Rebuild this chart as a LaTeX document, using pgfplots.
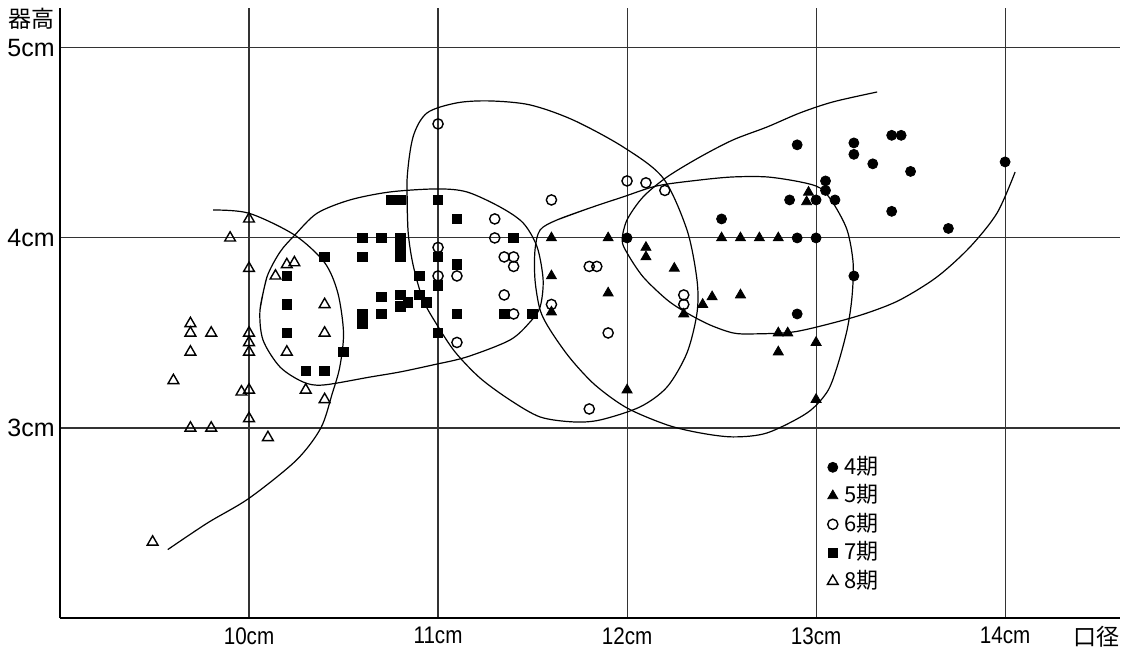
\documentclass[border=0pt]{standalone}
\usepackage{fontspec}
\setmainfont{Liberation Sans}
\newfontfamily\jp{Noto Sans CJK JP}
\newfontfamily\cond[FakeStretch=0.86]{Liberation Sans}
\usepackage{pgfplots}
\usepackage{pgfplotstable}
\pgfplotsset{compat=1.18}

\pgfplotstableread{
x y
12.0 4.0
12.5 4.1
12.86 4.2
12.9 4.49
12.9 4.0
13.0 4.0
13.0 4.2
13.05 4.3
13.05 4.25
13.1 4.2
13.2 4.5
13.2 4.44
13.3 4.39
13.4 4.54
13.45 4.54
13.5 4.35
13.4 4.14
13.7 4.05
14.0 4.4
13.2 3.8
12.9 3.6
}\kiA

\pgfplotstableread{
x y
11.6 4.0
11.6 3.8
11.6 3.61
11.9 4.0
11.9 3.71
12.0 3.2
12.1 3.95
12.1 3.9
12.25 3.84
12.3 3.6
12.4 3.65
12.45 3.69
12.5 4.0
12.6 4.0
12.7 4.0
12.8 4.0
12.6 3.7
12.8 3.5
12.85 3.5
12.8 3.4
13.0 3.45
13.0 3.15
12.96 4.24
12.95 4.19
}\kiB

\pgfplotstableread{
x y
11.0 4.6
11.0 3.95
11.0 3.8
11.1 3.8
11.1 3.45
11.3 4.1
11.3 4.0
11.35 3.9
11.4 3.9
11.4 3.85
11.35 3.7
11.4 3.6
11.6 4.2
11.6 3.65
11.8 3.85
11.84 3.85
11.9 3.5
11.8 3.1
12.0 4.3
12.1 4.29
12.2 4.25
12.3 3.7
12.3 3.65
}\kiC

\pgfplotstableread{
x y
10.2 3.8
10.2 3.65
10.2 3.5
10.3 3.3
10.4 3.3
10.4 3.9
10.5 3.4
10.6 4.0
10.6 3.9
10.6 3.6
10.6 3.55
10.7 4.0
10.7 3.69
10.7 3.6
10.75 4.2
10.8 4.2
10.8 4.0
10.8 3.95
10.8 3.9
10.8 3.7
10.84 3.66
10.8 3.64
10.9 3.8
10.9 3.7
10.94 3.66
11.0 4.2
11.0 3.9
11.0 3.75
11.0 3.5
11.1 4.1
11.1 3.86
11.1 3.6
11.35 3.6
11.4 4.0
11.5 3.6
}\kiD

\pgfplotstableread{
x y
10.0 4.1
9.9 4.0
10.0 3.84
9.69 3.55
9.69 3.5
9.8 3.5
9.69 3.4
9.6 3.25
10.0 3.5
10.0 3.45
10.0 3.4
9.96 3.19
10.0 3.2
10.0 3.05
9.69 3.0
9.8 3.0
10.1 2.95
9.49 2.4
10.14 3.8
10.2 3.86
10.24 3.87
10.4 3.65
10.4 3.5
10.2 3.4
10.3 3.2
10.4 3.15
}\kiE

\begin{document}
\begin{tikzpicture}
\begin{axis}[
  scale only axis, width=530pt, height=305pt,
  xmin=9, xmax=14.608, ymin=2, ymax=5.21,
  axis lines*=left,
  axis line style={-, line width=1pt, black},
  xtick={10,11,12,13,14},
  xticklabels={10cm,11cm,12cm,13cm,14cm},
  ytick={3,4,5},
  yticklabels={3cm,4cm,5cm},
  major tick length=0pt,
  grid=major,
  grid style={line width=0.55pt, black!80},
  xticklabel style={font=\cond\fontsize{12}{12}\selectfont, inner sep=0pt, yshift=-4.5pt},
  yticklabel style={font=\fontsize{12.5}{12}\selectfont, inner sep=0pt, xshift=-2.5pt},
  ylabel={\jp 器高},
  ylabel style={rotate=-90, at={(axis description cs:0,1)}, anchor=north east, inner sep=0pt, xshift=-2.5pt, font=\fontsize{11.5}{12}\selectfont},
  xlabel={\jp 口径},
  xlabel style={at={(axis description cs:1,0)}, anchor=north east, inner sep=0pt, yshift=-4pt, font=\fontsize{11.5}{12}\selectfont},
  clip=false,
  legend style={at={(axis cs:13.058,2.853)}, anchor=north west, draw=none, fill=none,
    inner sep=0pt,
    nodes={inner sep=0pt, text height=9pt, text depth=2pt},
    font=\jp\fontsize{11}{12}\selectfont, row sep=3.25pt,
    /tikz/every odd column/.append style={column sep=3pt}},
  legend cell align=left,
  legend image code/.code={\draw[#1] plot coordinates {(0cm,0cm)};},
]
% 8期 boundary arc
\addplot[smooth, line width=0.6pt, black, forget plot] coordinates {
(9.81,4.147) (10.0,4.13) (10.24,4.016) (10.40,3.87) (10.47,3.71) (10.50,3.50)
(10.48,3.32) (10.44,3.18) (10.38,3.0) (10.25,2.83) (10.0,2.63) (9.78,2.5) (9.57,2.36)};
% 7期 loop
\addplot[smooth, line width=0.6pt, black, forget plot] coordinates {
(10.058,3.621) (10.095,3.795) (10.164,3.926) (10.243,4.016) (10.36,4.13) (10.534,4.2)
(10.746,4.242) (10.995,4.258) (11.153,4.242) (11.328,4.163) (11.45,4.079) (11.524,3.953)
(11.556,3.779) (11.54,3.637) (11.487,3.558) (11.381,3.463) (11.153,3.374) (10.974,3.332)
(10.8,3.295) (10.64,3.268) (10.392,3.226) (10.286,3.242) (10.164,3.321) (10.074,3.463)
(10.058,3.621) (10.095,3.795)};
% 6期 loop
\addplot[smooth, line width=0.6pt, black, forget plot] coordinates {
(10.841,4.042) (10.836,4.305) (10.868,4.532) (10.942,4.658) (11.101,4.711) (11.275,4.721)
(11.487,4.700) (11.714,4.621) (11.979,4.479) (12.190,4.316) (12.317,4.042) (12.370,3.779)
(12.370,3.605) (12.317,3.395) (12.212,3.216) (12.069,3.111) (11.857,3.042) (11.714,3.032)
(11.540,3.058) (11.381,3.147) (11.222,3.263) (11.090,3.4) (10.995,3.542) (10.921,3.674)
(10.868,3.858) (10.841,4.042) (10.836,4.305)};
% 5期 loop
\addplot[smooth, line width=0.6pt, black, forget plot] coordinates {
(11.630,4.095) (11.804,4.158) (11.979,4.216) (12.159,4.274) (12.386,4.305) (12.561,4.321)
(12.741,4.321) (12.915,4.295) (13.021,4.263) (13.090,4.184) (13.164,4.042) (13.196,3.868)
(13.190,3.689) (13.164,3.516) (13.111,3.321) (13.058,3.189) (12.952,3.079) (12.741,2.974)
(12.561,2.953) (12.386,2.974) (12.212,3.016) (12.0,3.105) (11.831,3.226) (11.698,3.368)
(11.593,3.516) (11.540,3.621) (11.513,3.779) (11.513,3.937) (11.540,4.042) (11.630,4.095)
(11.804,4.158)};
% 4期 arc
\addplot[smooth, line width=0.6pt, black, forget plot] coordinates {
(13.323,4.768) (13.090,4.716) (12.915,4.658) (12.741,4.584) (12.561,4.516) (12.386,4.426)
(12.212,4.321) (12.085,4.216) (12.0,4.095) (11.974,3.989) (12.0,3.921) (12.085,3.795)
(12.212,3.674) (12.317,3.605) (12.439,3.542) (12.561,3.5) (12.667,3.495) (12.878,3.505)
(13.090,3.553) (13.270,3.605) (13.444,3.674) (13.640,3.795) (13.815,3.953) (13.958,4.132)
(14.053,4.347)};

\addplot[only marks, mark=*, mark size=2.5pt, black, mark options={fill=black}] table {\kiA};
\addlegendentry{4期}
\addplot[only marks, mark=triangle*, mark size=2.9pt, black, mark options={fill=black}] table {\kiB};
\addlegendentry{5期}
\addplot[only marks, mark=o, mark size=2.55pt, black, mark options={fill=white, line width=0.7pt}] table {\kiC};
\addlegendentry{6期}
\addplot[only marks, mark=square*, mark size=2.4pt, black, mark options={fill=black}] table {\kiD};
\addlegendentry{7期}
\addplot[only marks, mark=triangle, mark size=3.1pt, black, mark options={fill=white, line width=0.7pt}] table {\kiE};
\addlegendentry{8期}
\end{axis}
\pgfresetboundingbox
\path (-30pt,-15.5pt) rectangle (531pt,309pt);
\end{tikzpicture}
\end{document}
